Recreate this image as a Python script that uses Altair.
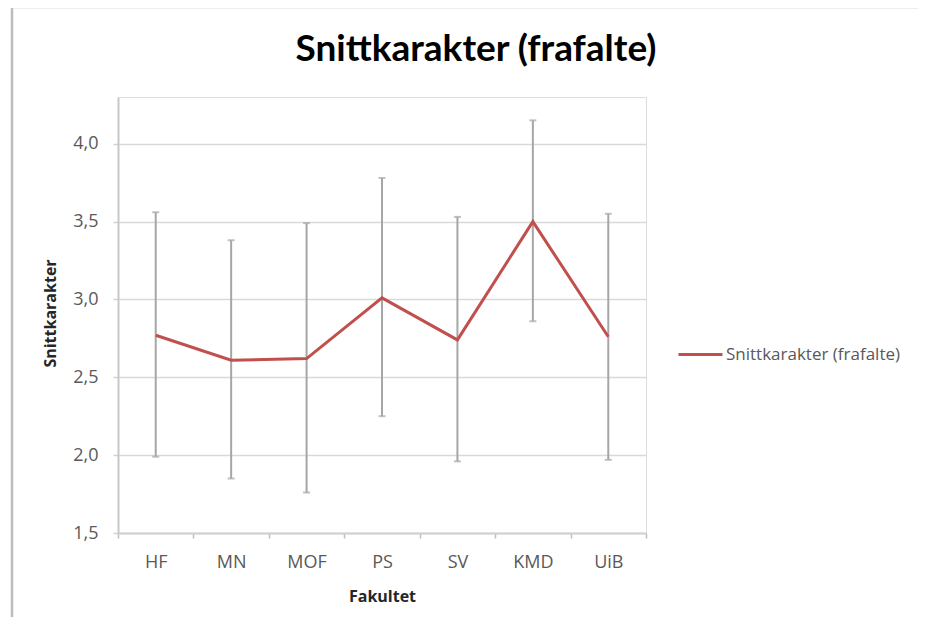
import altair as alt
import pandas as pd

categories = ["HF", "MN", "MOF", "PS", "SV", "KMD", "UiB"]
mean_values = [2.77, 2.61, 2.62, 3.01, 2.74, 3.50, 2.76]
upper_values = [3.56, 3.38, 3.49, 3.78, 3.53, 4.15, 3.55]
lower_values = [1.99, 1.85, 1.76, 2.25, 1.96, 2.86, 1.97]
series_name = "Snittkarakter (frafalte)"
y_ticks = [1.5, 2.0, 2.5, 3.0, 3.5, 4.0]

df = pd.DataFrame({
    "Fakultet": categories,
    "mean": mean_values,
    "upper": upper_values,
    "lower": lower_values,
    "series": [series_name] * len(categories),
})

GRAY_TXT = "#595959"
FONT = "Open Sans"
TFONT = "Lato"

x_enc = alt.X(
    "Fakultet:N",
    sort=categories,
    scale=alt.Scale(paddingInner=0, paddingOuter=0),
    axis=alt.Axis(
        title="Fakultet",
        labelAngle=0,
        tickBand="extent",
        tickSize=5,
        tickColor="#bfbfbf",
        tickWidth=1.5,
        domainColor="#d0d0d0",
        domainWidth=2,
        labelPadding=24,
        labelBaseline="middle",
        labelFontSize=18,
        labelColor=GRAY_TXT,
        labelFont=FONT,
        titleFont=FONT,
        titleFontSize=16,
        titleFontWeight="bold",
        titleColor="#262626",
        titleY=63,
        titleBaseline="middle",
        grid=False,
    ),
)

y_scale = alt.Scale(domain=[1.5, 4.3], nice=False, zero=False)

base = alt.Chart(df)

errbars = base.mark_rule(color="#a6a6a6", strokeWidth=2).encode(
    x=x_enc,
    y=alt.Y(
        "lower:Q",
        scale=y_scale,
        axis=alt.Axis(
            values=y_ticks,
            labelExpr="replace(format(datum.value, '.1f'), '.', ',')",
            title="Snittkarakter",
            tickSize=5,
            tickColor="#d0d0d0",
            tickWidth=1.5,
            domainColor="#c8c8c8",
            domainWidth=2,
            gridColor="#d9d9d9",
            gridWidth=1.5,
            labelPadding=15,
            labelFontSize=18,
            labelColor=GRAY_TXT,
            labelFont=FONT,
            titleFont=FONT,
            titleFontSize=16,
            titleFontWeight="bold",
            titleColor="#262626",
            titleX=-68,
            titleY=216,
            titleBaseline="middle",
            titleAngle=-90,
        ),
    ),
    y2="upper:Q",
)

caps_top = base.mark_tick(color="#a6a6a6", thickness=2, size=7).encode(
    x=alt.X("Fakultet:N", sort=categories),
    y=alt.Y("upper:Q", scale=y_scale),
)
caps_bot = base.mark_tick(color="#a6a6a6", thickness=2, size=7).encode(
    x=alt.X("Fakultet:N", sort=categories),
    y=alt.Y("lower:Q", scale=y_scale),
)

line = base.mark_line(strokeWidth=3).encode(
    x=alt.X("Fakultet:N", sort=categories),
    y=alt.Y("mean:Q", scale=y_scale),
    color=alt.Color(
        "series:N",
        scale=alt.Scale(domain=[series_name], range=["#c0504d"]),
        legend=alt.Legend(
            title=None,
            orient="none",
            legendX=559,
            legendY=234,
            symbolType="stroke",
            symbolStrokeWidth=3,
            symbolSize=1936,
            labelFont=FONT,
            labelFontSize=17,
            labelColor=GRAY_TXT,
            labelOffset=2,
            labelLimit=400,
        ),
    ),
)

border_left = alt.Chart(pd.DataFrame({"k": [0]})).mark_rule(
    color="#bdbdbd", strokeWidth=2.5
).encode(x=alt.value(-106), y=alt.value(-90), y2=alt.value(560))

border_top = alt.Chart(pd.DataFrame({"k": [0]})).mark_rule(
    color="#bdbdbd", strokeWidth=2.5
).encode(x=alt.value(-106), x2=alt.value(820), y=alt.value(-90))

chart = alt.layer(border_left, border_top, errbars, caps_top, caps_bot, line).properties(
    width=528,
    height=436,
    padding={"left": 110, "top": 89, "right": 272, "bottom": 84},
    autosize=alt.AutoSizeParams(type="none"),
    title=alt.TitleParams(
        text="Snittkarakter (frafalte)",
        font=TFONT,
        fontSize=37,
        fontWeight="bold",
        color="#000000",
        anchor="middle",
        frame="group",
        dx=94,
        baseline="alphabetic",
        offset=-92,
    ),
).configure_view(stroke=None).configure(background="white")

chart.save("out.html", embed_options={"renderer": "svg", "actions": False})
